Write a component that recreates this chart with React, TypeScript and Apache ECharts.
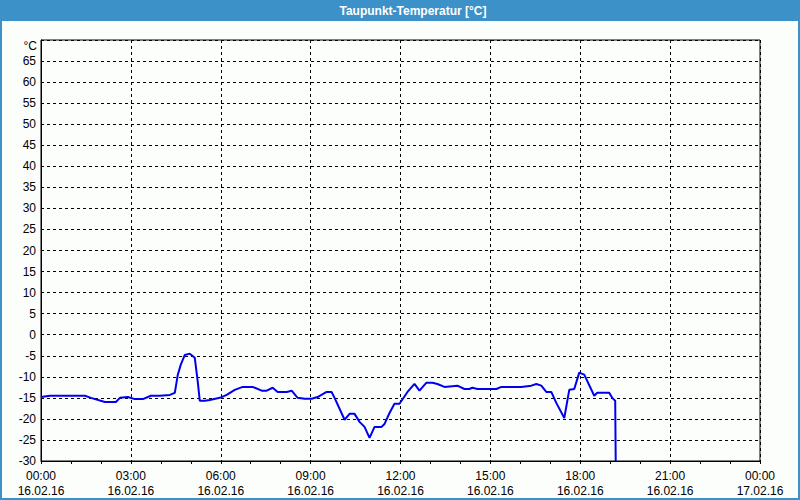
import React, { useEffect, useRef } from "react";
import * as echarts from "echarts";

const TITLE = "Taupunkt-Temperatur [°C]";
const X_LABEL_TIMES = ["00:00", "03:00", "06:00", "09:00", "12:00", "15:00", "18:00", "21:00", "00:00"];
const X_LABEL_DATES = ["16.02.16", "16.02.16", "16.02.16", "16.02.16", "16.02.16", "16.02.16", "16.02.16", "16.02.16", "17.02.16"];
const Y_MIN = -30;
const Y_MAX = 70;
const Y_UNIT = "°C";

// minutes since 16.02.16 00:00
const minutes = [
  0, 18, 88, 100, 128, 150, 158, 174, 188, 204, 220, 238, 258, 268, 274, 280, 288, 298, 308, 314,
  318, 328, 338, 358, 372, 388, 404, 424, 442, 452, 464, 474, 492, 502, 514, 528, 542, 554, 572, 582,
  588, 608, 618, 628, 638, 648, 658, 668, 682, 688, 698, 708, 718, 734, 748, 758, 772, 784, 794, 808,
  834, 848, 858, 864, 874, 912, 922, 962, 982, 992, 1002, 1012, 1022, 1032, 1048, 1058, 1068, 1078, 1088, 1108,
  1114, 1138, 1144, 1150, 1151,
];
const dewPoint = [
  -14.8, -14.5, -14.5, -15, -16, -16, -15, -14.8, -15.3, -15.3, -14.5, -14.5, -14.3, -13.8, -9.5, -7.1, -4.8, -4.5, -5.5, -11.2,
  -15.7, -15.7, -15.5, -15, -14.3, -13.1, -12.4, -12.4, -13.3, -13.3, -12.6, -13.6, -13.6, -13.3, -15, -15.2, -15.2, -14.8, -13.6, -13.6,
  -15, -20.2, -18.8, -18.8, -20.7, -21.9, -24.5, -21.9, -21.9, -21.2, -18.6, -16.4, -16.4, -13.6, -11.7, -13.3, -11.4, -11.4, -11.7, -12.4,
  -12.1, -12.9, -12.9, -12.6, -12.9, -12.9, -12.4, -12.4, -12.1, -11.7, -12.1, -13.6, -13.6, -16.2, -19.8, -13.1, -12.9, -9.0, -9.5, -14.5,
  -13.8, -13.8, -15, -15.7, -30,
];

const FONT = "Liberation Sans, Arial, sans-serif";
const FRAME_BLUE = "#3c91c8";

export default function App() {
  const ref = useRef<HTMLDivElement>(null);
  useEffect(() => {
    if (!ref.current) return;
    const chart = echarts.init(ref.current, undefined, { renderer: "svg" });
    const data = minutes.map((m, i) => [m, dewPoint[i]]);
    chart.setOption({
      animation: false,
      backgroundColor: "#fcfefc",
      graphic: [
        { type: "rect", shape: { x: 0, y: 0, width: 800, height: 21 }, style: { fill: FRAME_BLUE }, z: 10 },
        {
          type: "rect",
          shape: { x: 1, y: 1, width: 798, height: 498 },
          style: { fill: "none", stroke: FRAME_BLUE, lineWidth: 2 },
          z: 10,
        },
        {
          type: "text",
          x: 413,
          y: 11,
          style: { text: TITLE, fill: "#fff", font: `bold 12px ${FONT}`, textAlign: "center", textVerticalAlign: "middle" },
          z: 11,
        },
        {
          type: "text",
          x: 37,
          y: 46,
          style: { text: Y_UNIT, fill: "#000", font: `12px ${FONT}`, textAlign: "right", textVerticalAlign: "middle" },
          z: 11,
        },
      ],
      grid: {
        left: 41,
        right: 40,
        top: 40,
        bottom: 39,
        show: true,
        borderColor: "#000",
        borderWidth: 1,
        backgroundColor: "transparent",
      },
      xAxis: {
        type: "value",
        min: 0,
        max: 1440,
        interval: 180,
        axisLine: { show: true, onZero: false, lineStyle: { color: "#000", width: 1 } },
        axisTick: { show: true, length: 3, lineStyle: { color: "#000" } },
        minorTick: { show: true, splitNumber: 3, length: 3, lineStyle: { color: "#000" } },
        splitLine: { show: true, lineStyle: { color: "#000", type: [3, 3], width: 1 } },
        axisLabel: {
          color: "#000",
          fontFamily: FONT,
          fontSize: 12,
          lineHeight: 15,
          margin: 7,
          showMinLabel: true,
          showMaxLabel: true,
          formatter: (v: number) => {
            const i = Math.round(v / 180);
            return `${X_LABEL_TIMES[i]}\n${X_LABEL_DATES[i]}`;
          },
        },
      },
      yAxis: {
        type: "value",
        min: Y_MIN,
        max: Y_MAX,
        interval: 5,
        axisLine: { show: true, onZero: false, lineStyle: { color: "#000", width: 1 } },
        axisTick: { show: false },
        splitLine: { show: true, lineStyle: { color: "#000", type: [3, 3], width: 1 } },
        axisLabel: {
          color: "#000",
          fontFamily: FONT,
          fontSize: 12,
          margin: 5,
          formatter: (v: number) => (v === Y_MAX ? "" : String(v)),
        },
      },
      series: [
        {
          type: "line",
          data,
          showSymbol: false,
          symbol: "none",
          clip: true,
          lineStyle: { color: "#0000ee", width: 2 },
        },
      ],
    });
    return () => chart.dispose();
  }, []);
  return <div ref={ref} style={{ position: "fixed", left: 0, top: 0, width: 800, height: 500 }} />;
}
